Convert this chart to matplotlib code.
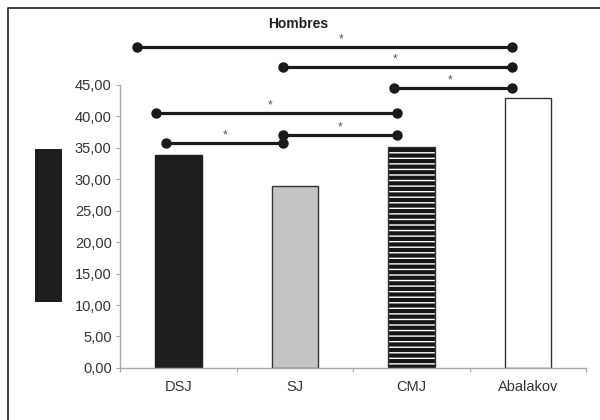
import matplotlib
matplotlib.use("Agg")
import matplotlib.pyplot as plt
from matplotlib.patches import Rectangle
from matplotlib.lines import Line2D

plt.rcParams['font.family'] = ['Liberation Sans', 'DejaVu Sans']

categories = ["DSJ", "SJ", "CMJ", "Abalakov"]
values = [33.9, 28.9, 35.1, 42.9]
yticks = [0, 5, 10, 15, 20, 25, 30, 35, 40, 45]
ytick_labels = ["0,00", "5,00", "10,00", "15,00", "20,00", "25,00", "30,00", "35,00", "40,00", "45,00"]

# significance brackets: (x_start, x_end, y, x_star)
sig_x0 = [-0.354, 0.90, 1.85, -0.19, 0.90, -0.105]
sig_x1 = [2.86, 2.86, 2.86, 1.88, 1.88, 0.90]
sig_y = [51.0, 47.9, 44.5, 40.5, 37.1, 35.8]
sig_star_x = [1.40, 1.86, 2.33, 0.79, 1.39, 0.40]

fig = plt.figure(figsize=(6, 4.2), dpi=100)
fig.patch.set_facecolor('white')
ax = fig.add_axes([0.2, 0.124, 0.777, 0.674])

x = list(range(len(categories)))
w = 0.4
edge = '#333333'
ax.bar(x[0], values[0], width=w, color='#1e1e1e', edgecolor='#1e1e1e', linewidth=1)
ax.bar(x[1], values[1], width=w, color='#c4c4c4', edgecolor=edge, linewidth=1)
ax.bar(x[2], values[2], width=w, color='#151515', edgecolor='white', hatch='---', linewidth=0)
ax.bar(x[2], values[2], width=w, fill=False, edgecolor=edge, linewidth=1)
ax.bar(x[3], values[3], width=w, color='white', edgecolor=edge, linewidth=1)

ax.set_xlim(-0.5, 3.5)
ax.set_ylim(0, 45)
ax.set_yticks(yticks)
ax.set_yticklabels(ytick_labels)
ax.set_xticks([-0.5, 0.5, 1.5, 2.5, 3.5])
ax.set_xticklabels([])
ax.set_xticks(x, minor=True)
ax.set_xticklabels(categories, minor=True)
ax.tick_params(axis='x', which='minor', length=0, pad=9, labelsize=10.5, labelcolor='#333333')
ax.tick_params(axis='x', which='major', length=3, direction='out', color='#aaaaaa')
ax.tick_params(axis='y', length=3, color='#aaaaaa', labelsize=10.5, labelcolor='#333333', pad=3)
for s in ['top', 'right']:
    ax.spines[s].set_visible(False)
for s in ['left', 'bottom']:
    ax.spines[s].set_color('#aaaaaa')
    ax.spines[s].set_linewidth(1)

for x0, x1, yy, xs in zip(sig_x0, sig_x1, sig_y, sig_star_x):
    ax.plot([x0, x1], [yy, yy], color='#1a1a1a', lw=2.3, clip_on=False,
            marker='o', markersize=6.5, solid_capstyle='butt', zorder=5)
    ax.annotate('*', (xs, yy), xytext=(0, 1), textcoords='offset points',
                ha='center', va='bottom', fontsize=8.5, color='#555555',
                annotation_clip=False)

fig.text(298 / 600, 1 - 24 / 420, "Hombres", ha='center', va='center',
         fontsize=10, fontweight='bold', color='#222222')

# left dark block
fig.patches.append(Rectangle((35 / 600, 1 - 302 / 420), 27 / 600, 153 / 420,
                             transform=fig.transFigure, facecolor='#1e1e1e',
                             edgecolor='none'))
# frame
fig.lines.append(Line2D([8 / 600, 8 / 600, 1.0], [0, 1 - 8 / 420, 1 - 8 / 420],
                        transform=fig.transFigure, color='#333333', lw=1.3))

fig.savefig('out.png', dpi=100)
